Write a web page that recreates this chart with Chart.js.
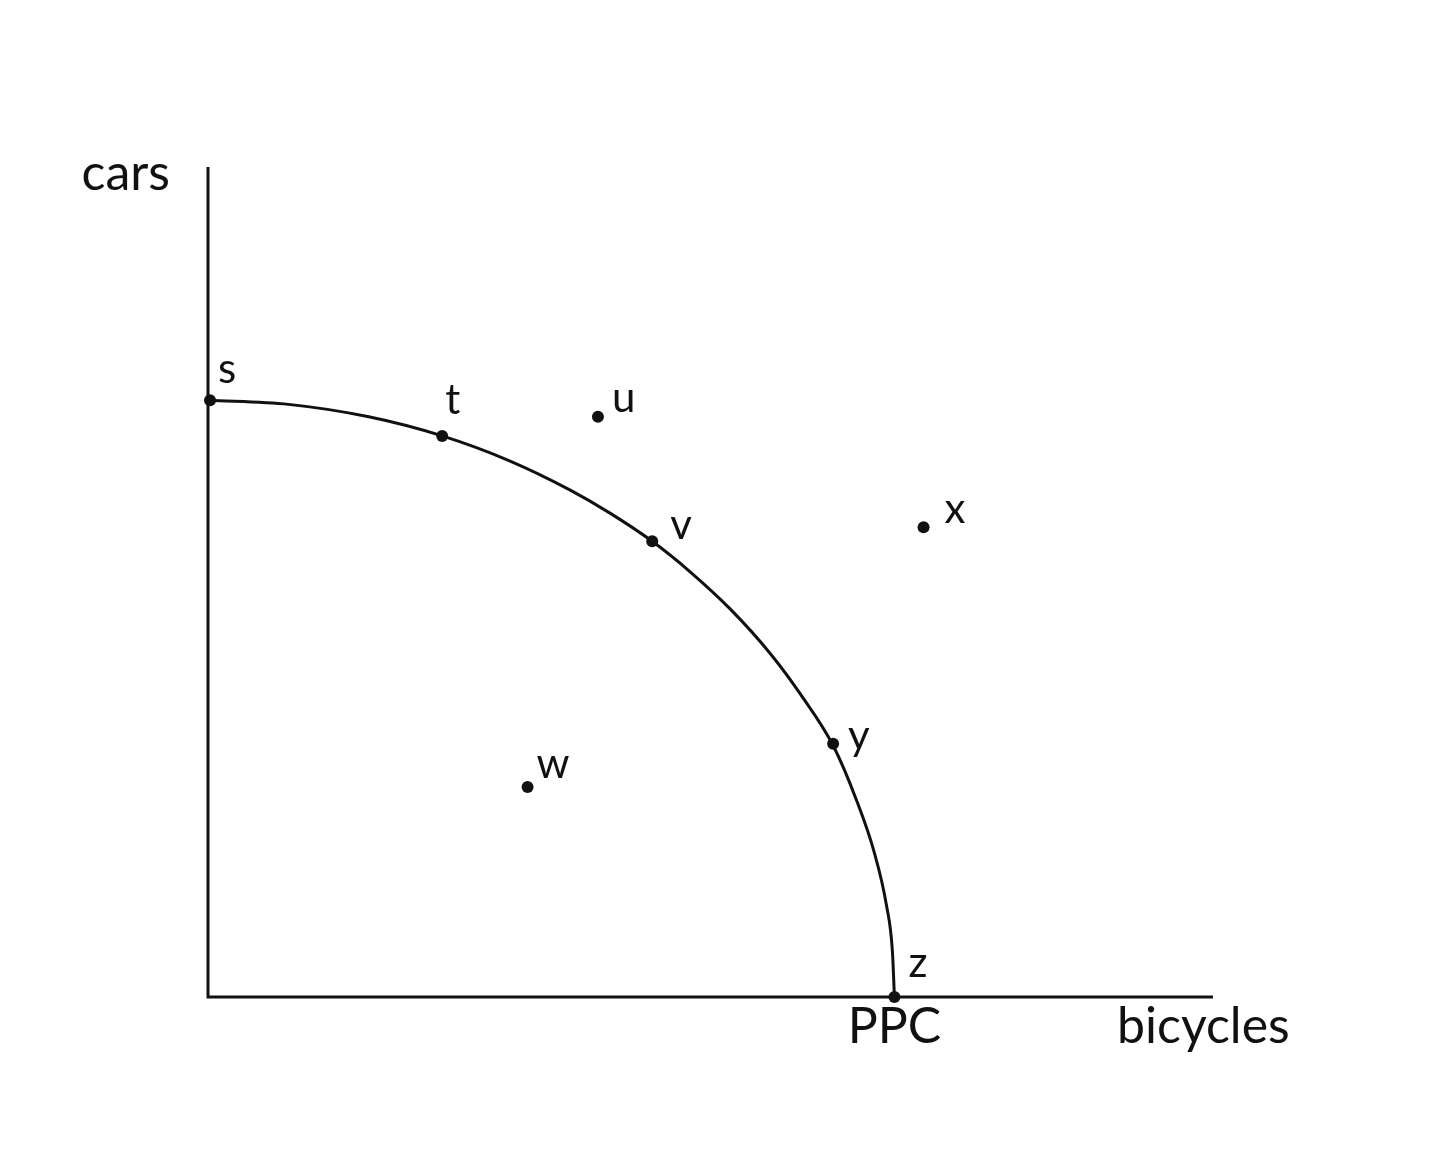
<!DOCTYPE html>
<html>
<head>
<meta charset="utf-8">
<script src="https://cdn.jsdelivr.net/npm/chart.js@4/dist/chart.umd.min.js"></script>
<style>
  html, body { margin: 0; padding: 0; background: #ffffff; }
  #c { display: block; }
</style>
</head>
<body>
<canvas id="c" width="1440" height="1163"></canvas>
<script>
// ---- data (axis units 0..100) ----
const curveX = [0, 8, 16, 23.3, 30, 36, 40, 44.2, 48, 52, 56, 59, 62.2, 64.5, 66.3, 67.5, 68.1, 68.3];
const curveY = [71.9, 71.4, 69.9, 67.6, 64.6, 61.1, 58.3, 54.9, 51.2, 46.7, 41.3, 36.4, 30.3, 23.8, 17.4, 11.1, 5.5, 0];

const pointNames = ['s', 't', 'u', 'v', 'x', 'y', 'w', 'z'];
const pointX = [0.2, 23.3, 38.8, 44.2, 71.2, 62.2, 31.8, 68.3];
const pointY = [71.9, 67.6, 69.9, 54.9, 56.6, 30.5, 25.3, 0];

const xTitle = 'bicycles';
const yTitle = 'cars';
const curveName = 'PPC';

const axisMin = 0;
const axisMax = 100;

// ---- styling / label placement (pixel offsets from each point) ----
const labelOffset = {
  s: [8, -17], t: [3, -22], u: [14, -5], v: [18, -2],
  x: [21, -4], y: [15, 6], w: [9, -9], z: [14, -20]
};
const ink = '#111111';
const smallFont = '42px Lato, "Open Sans", sans-serif';
const bigFont = '50px Lato, "Open Sans", sans-serif';

const curveData = curveX.map((x, i) => ({ x: x, y: curveY[i] }));
const pointData = pointX.map((x, i) => ({ x: x, y: pointY[i], name: pointNames[i] }));

const axesPlugin = {
  id: 'axesPlugin',
  beforeDatasetsDraw(chart) {
    const { ctx, scales } = chart;
    const x0 = scales.x.getPixelForValue(axisMin);
    const x1 = scales.x.getPixelForValue(axisMax);
    const y0 = scales.y.getPixelForValue(axisMin);
    const y1 = scales.y.getPixelForValue(axisMax);
    ctx.save();
    ctx.strokeStyle = ink;
    ctx.lineWidth = 3;
    ctx.lineCap = 'butt';
    ctx.beginPath();
    ctx.moveTo(x0, y1);
    ctx.lineTo(x0, y0 + 1.5);
    ctx.moveTo(x0 - 1.5, y0);
    ctx.lineTo(x1, y0);
    ctx.stroke();
    ctx.restore();
  },
  afterDatasetsDraw(chart) {
    const { ctx, scales } = chart;
    ctx.save();
    ctx.fillStyle = ink;
    ctx.textBaseline = 'alphabetic';
    // point labels
    ctx.font = smallFont;
    ctx.textAlign = 'left';
    pointData.forEach(p => {
      const px = scales.x.getPixelForValue(p.x);
      const py = scales.y.getPixelForValue(p.y);
      const off = labelOffset[p.name];
      ctx.fillText(p.name, px + off[0], py + off[1]);
    });
    // curve name under z
    const zx = scales.x.getPixelForValue(curveX[curveX.length - 1]);
    const zy = scales.y.getPixelForValue(curveY[curveY.length - 1]);
    ctx.font = bigFont;
    ctx.textAlign = 'center';
    ctx.fillText(curveName, zx, zy + 46);
    // axis titles
    const xEnd = scales.x.getPixelForValue(axisMax);
    const yBase = scales.y.getPixelForValue(axisMin);
    ctx.textAlign = 'left';
    ctx.fillText(xTitle, xEnd - 96, yBase + 46);
    const yTop = scales.y.getPixelForValue(axisMax);
    const xLeft = scales.x.getPixelForValue(axisMin);
    ctx.textAlign = 'right';
    ctx.fillText(yTitle, xLeft - 38, yTop + 23);
    ctx.restore();
  }
};

new Chart(document.getElementById('c'), {
  type: 'scatter',
  data: {
    datasets: [
      {
        label: curveName,
        data: curveData,
        showLine: true,
        borderColor: ink,
        borderWidth: 3,
        pointRadius: 0,
        cubicInterpolationMode: 'monotone',
        fill: false,
        clip: false
      },
      {
        label: 'points',
        data: pointData,
        showLine: false,
        pointRadius: 6,
        pointBackgroundColor: ink,
        pointBorderColor: ink,
        pointBorderWidth: 0,
        clip: false
      }
    ]
  },
  options: {
    responsive: false,
    animation: false,
    devicePixelRatio: 1,
    layout: { padding: { left: 208, right: 227, top: 167, bottom: 166 } },
    plugins: { legend: { display: false }, tooltip: { enabled: false } },
    scales: {
      x: { type: 'linear', min: axisMin, max: axisMax, display: false },
      y: { type: 'linear', min: axisMin, max: axisMax, display: false }
    }
  },
  plugins: [axesPlugin]
});
</script>
</body>
</html>
